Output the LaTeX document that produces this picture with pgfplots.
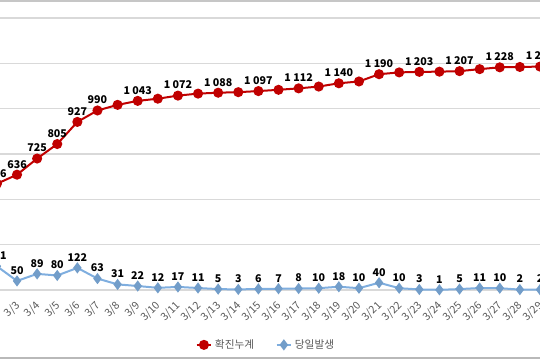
\documentclass[border=0pt]{standalone}
\usepackage{pgfplots}
\pgfplotsset{compat=1.18}
\usepackage{fontspec}
\setmainfont{Noto Sans CJK KR}
\definecolor{cumred}{HTML}{C00000}
\definecolor{dayblue}{HTML}{7FAEDF}
\definecolor{gridgray}{HTML}{D9D9D9}
\definecolor{txtgray}{HTML}{595959}
\begin{document}
\begin{tikzpicture}
\begin{axis}[
  at={(0,0)}, anchor=south west,
  scale only axis, width=405pt, height=270pt,
  xmin=0.154, xmax=27.0, ymin=-386, ymax=1599.3,
  clip=false,
  axis line style={draw=none},
  tick style={draw=none},
  ytick={0,250,...,1500}, yticklabels={},
  ymajorgrids, grid style={gridgray, line width=0.8pt},
  xtick={0,...,27},
  xticklabels={3/2,3/3,3/4,3/5,3/6,3/7,3/8,3/9,3/10,3/11,3/12,3/13,3/14,3/15,3/16,3/17,3/18,3/19,3/20,3/21,3/22,3/23,3/24,3/25,3/26,3/27,3/28,3/29},
  xticklabel style={yshift=43pt, xshift=1.5pt, rotate=45, anchor=east, font=\fontsize{8}{9}\selectfont, text=txtgray, inner sep=1pt},
  /pgf/number format/assume math mode=true,
  /pgf/number format/1000 sep={\hspace{0.22em}},
  legend style={at={(rel axis cs:0.493,0.042)}, anchor=center, draw=none, fill=none,
    legend columns=2, font=\fontsize{8}{9}\selectfont, text=txtgray,
    /tikz/every even column/.append style={column sep=14pt}},
  legend image code/.code={\draw[#1] (0pt,0pt) -- (11pt,0pt); \draw[#1] plot coordinates {(5.5pt,0pt)};},
]
% cumulative
\addplot[cumred, line width=1.5pt, mark=*, mark size=3pt, mark options={fill=cumred, draw=cumred}] table {
x y
0 586
1 636
2 725
3 805
4 927
5 990
6 1021
7 1043
8 1055
9 1072
10 1083
11 1088
12 1091
13 1097
14 1104
15 1112
16 1122
17 1140
18 1150
19 1190
20 1200
21 1203
22 1204
23 1207
24 1218
25 1228
26 1230
27 1232
};
\addlegendentry{확진누계}
% daily
\addplot[dayblue, line width=1.5pt, mark=diamond*, mark size=3pt, mark options={fill=dayblue!90!black, draw=dayblue!90!black},
  nodes near coords={\pgfmathprintnumber{\pgfplotspointmeta}},
  every node near coord/.append style={anchor=base, inner sep=0pt, yshift=5pt, text=black, font=\fontsize{8}{9}\selectfont\bfseries}] table {
x y
0 131
1 50
2 89
3 80
4 122
5 63
6 31
7 22
8 12
9 17
10 11
11 5
12 3
13 6
14 7
15 8
16 10
17 18
18 10
19 40
20 10
21 3
22 1
23 5
24 11
25 10
26 2
27 2
};
\addlegendentry{당일발생}
% cumulative labels
\addplot[draw=none, mark=none, forget plot,
  nodes near coords={\pgfmathprintnumber{\pgfplotspointmeta}},
  every node near coord/.append style={anchor=base, inner sep=0pt, yshift=5pt, text=black, font=\fontsize{8}{9}\selectfont\bfseries}] table {
x y
0 586
1 636
2 725
3 805
4 927
5 990
7 1043
9 1072
11 1088
13 1097
15 1112
17 1140
19 1190
21 1203
23 1207
25 1228
27 1232
};
\end{axis}
\draw[gray!45, line width=1.5pt] (0,269.2pt) -- (405pt,269.2pt);
\draw[gray!55, line width=1.5pt] (0,1.2pt) -- (405pt,1.2pt);
\pgfresetboundingbox
\useasboundingbox (0,0) rectangle (405pt,270pt);
\end{tikzpicture}
\end{document}
